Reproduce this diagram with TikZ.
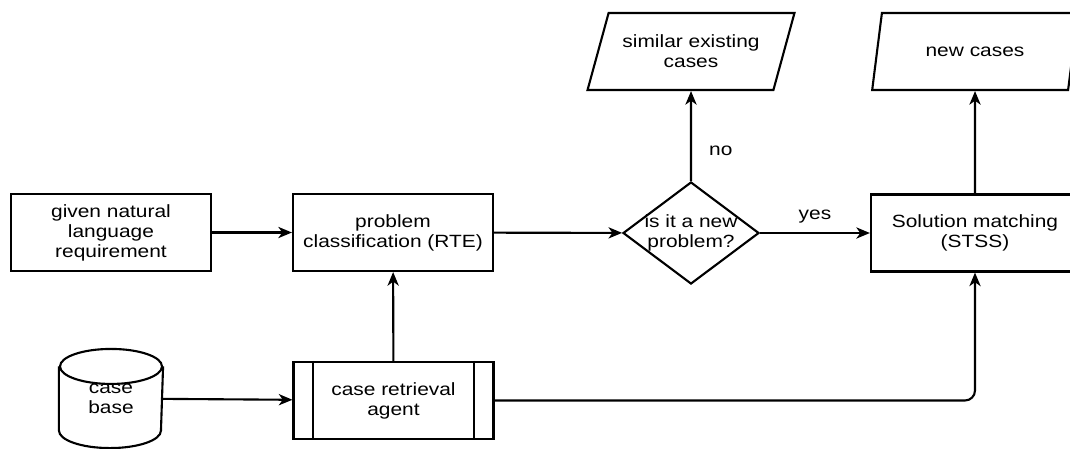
\documentclass[tikz,border=0pt]{standalone}
\usepackage{fontspec}
\setmainfont{Liberation Sans}[FakeStretch=1.18]
\usetikzlibrary{shapes.geometric,arrows.meta}

\begin{document}
\begin{tikzpicture}[x=0.025cm,y=-0.025cm,line width=1.5pt,
  >={Stealth[length=0.34cm 0,width=0.28cm 0,inset=0.1cm 0]}]
\fontsize{12.6pt}{14.2pt}\selectfont
\tikzstyle{arrow}=[->]
\tikzstyle{box}=[draw,align=center,minimum width=5cm,minimum height=1.925cm,inner sep=0pt]
\tikzstyle{datain}=[draw,trapezium,trapezium left angle=62,trapezium right angle=118,trapezium stretches=true,align=center,minimum width=5.175cm,minimum height=1.925cm,inner sep=0pt]
\tikzstyle{decide}=[draw,diamond,minimum width=3.4cm,minimum height=2.55cm,inner sep=0pt]
\useasboundingbox (0,0) rectangle (1070,448);
\clip (0,0) rectangle (1070,448);

	\node[box] (req) at (111,232.5) {given natural\\language\\requirement};
	\node[box] (cls) at (393,232.5) {problem\\classification (RTE)};
	\node[decide,label={[align=center]center:{is it a new\\problem?}}] (new) at (691,233) {};
	\node[box,minimum width=5.2cm] (sol) at (975,233) {Solution matching\\(STSS)};
	\node[datain] (sim) at (691,51.5) {similar existing\\cases};
	\node[datain] (out) at (975,51.5) {new cases};
	\node[box] (agent) at (393.5,400.5) {case retrieval\\agent};
	\node[align=center,minimum width=2.55cm,minimum height=2.425cm,inner sep=0pt] (base) at (111,398.5) {case\\base};

	% side bars of the agent box
	\draw ([xshift=0.525cm]agent.north west) -- ([xshift=0.525cm]agent.south west);
	\draw ([xshift=-0.525cm]agent.north east) -- ([xshift=-0.525cm]agent.south east);

	% the case base drum
	\draw ([yshift=-0.4375cm]base.north west) -- ([yshift=0.4375cm]base.south west)
		arc[start angle=180,end angle=360,x radius=1.275cm,y radius=0.4375cm]
		-- ([yshift=-0.4375cm]base.north east);
	\draw ([yshift=-0.4375cm]base.north) ellipse [x radius=1.275cm,y radius=0.4375cm];

	\draw[arrow] (req) -- (cls);
	\draw[arrow] (cls) -- (new);
	\draw[arrow] (new) -- node[above=2pt]{yes} (sol);
	\draw[arrow] (new) -- node[pos=0.33,right=8pt]{no} (sim);
	\draw[arrow] (sol) -- (out);
	\draw[arrow] (agent) -- (cls);
	\draw[arrow] (base) -- (agent);
	\draw[arrow,rounded corners=0.25cm] (agent) -| (sol);
\end{tikzpicture}
\end{document}
